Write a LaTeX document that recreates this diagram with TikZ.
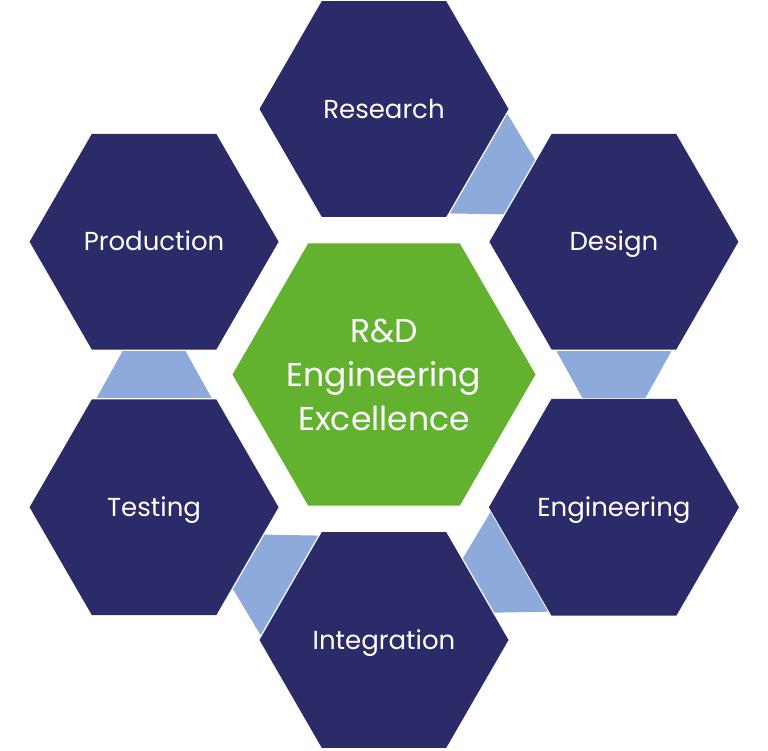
\documentclass[tikz,border=0pt]{standalone}
\usepackage{fontspec}
\setmainfont{Poppins}
\usetikzlibrary{shapes.geometric,calc}
\definecolor{navy}{HTML}{2B2B69}
\definecolor{leaf}{HTML}{63B22F}
\definecolor{pale}{HTML}{8EAADB}
\newcommand\linkpiece[2]{%
  \coordinate (m1) at ($(#1)!109.3pt!(#2)$);
  \coordinate (m2) at ($(#2)!109.3pt!(#1)$);
  \fill[linkfill] ($(m1)!57.5pt!90:(#2)$) -- ($(m1)!57.5pt!-90:(#2)$)
    -- ($(m2)!31.5pt!90:(#1)$) -- ($(m2)!31.5pt!-90:(#1)$) -- cycle;}
\begin{document}
\begin{tikzpicture}[x=1pt,y=-1pt,
  hexa/.style={regular polygon, regular polygon sides=6, minimum size=249pt,
    inner sep=0pt, outer sep=0pt, fill=navy, text=white,
    font=\fontsize{26}{32}\selectfont, text height=18pt, text depth=0pt},
  corehex/.style={regular polygon, regular polygon sides=6, minimum size=303pt,
    inner sep=0pt, outer sep=0pt, fill=leaf},
  coretxt/.style={text=white, align=center, inner sep=0pt,
    font=\fontsize{33}{44}\selectfont},
  linkfill/.style={fill=pale}]
\useasboundingbox (0,0) rectangle (768,750);
\coordinate (O) at (384,374.5);
\node[corehex] (core) at (O) {};
\node[coretxt] (coretext) at (core.center) {R\&D\\Engineering\\Excellence};
\node[hexa] (research) at ($(O)+(-90:265.5)$) {Research};
\node[hexa] (design) at ($(O)+(-30:265.5)$) {Design};
\node[hexa] (engineering) at ($(O)+(30:265.5)$) {Engineering};
\node[hexa] (integration) at ($(O)+(90:265.5)$) {Integration};
\node[hexa] (testing) at ($(O)+(150:265.5)$) {Testing};
\node[hexa] (production) at ($(O)+(-150:265.5)$) {Production};
\linkpiece{research}{design}
\linkpiece{design}{engineering}
\linkpiece{engineering}{integration}
\linkpiece{integration}{testing}
\linkpiece{testing}{production}
\end{tikzpicture}
\end{document}
